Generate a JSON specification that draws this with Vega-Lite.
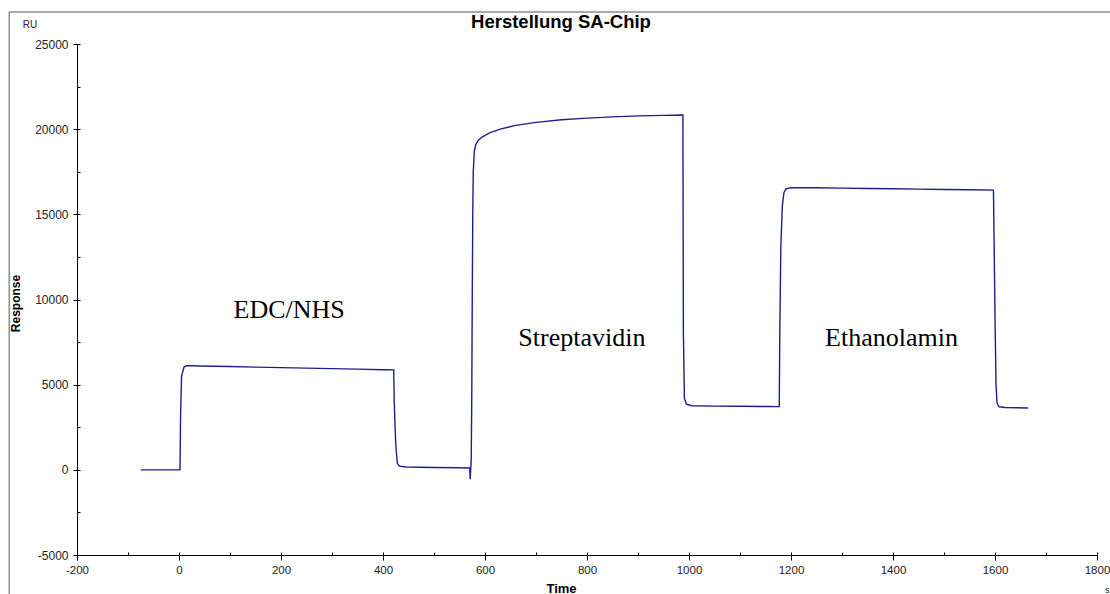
{
  "$schema": "https://vega.github.io/schema/vega-lite/v6.json",
  "width": 1020,
  "height": 511,
  "autosize": {"type": "none"},
  "padding": {"left": 77, "top": 44, "right": 13, "bottom": 39},
  "background": "white",
  "config": {"view": {"stroke": null}, "font": "Liberation Sans"},
  "datasets": {
    "sensorgram": [
      {"t": -75, "ru": 0}, {"t": 0, "ru": 0}, {"t": 2, "ru": 0},
      {"t": 3, "ru": 3000}, {"t": 5, "ru": 5500}, {"t": 10, "ru": 6050}, {"t": 15, "ru": 6120},
      {"t": 30, "ru": 6110}, {"t": 40, "ru": 6100}, {"t": 100, "ru": 6070}, {"t": 150, "ru": 6030},
      {"t": 200, "ru": 6000}, {"t": 250, "ru": 5970}, {"t": 300, "ru": 5940}, {"t": 350, "ru": 5910},
      {"t": 400, "ru": 5880}, {"t": 421, "ru": 5870},
      {"t": 422, "ru": 4000}, {"t": 425, "ru": 1500}, {"t": 428, "ru": 400}, {"t": 432, "ru": 220},
      {"t": 445, "ru": 170}, {"t": 500, "ru": 140}, {"t": 550, "ru": 120}, {"t": 570, "ru": 110},
      {"t": 571, "ru": -550}, {"t": 573, "ru": 600}, {"t": 574, "ru": 4000}, {"t": 575, "ru": 10000},
      {"t": 576, "ru": 15000}, {"t": 577, "ru": 17500}, {"t": 579, "ru": 18700}, {"t": 582, "ru": 19100},
      {"t": 587, "ru": 19350}, {"t": 595, "ru": 19550}, {"t": 610, "ru": 19800}, {"t": 630, "ru": 20000},
      {"t": 660, "ru": 20220}, {"t": 700, "ru": 20400}, {"t": 750, "ru": 20550}, {"t": 800, "ru": 20650},
      {"t": 850, "ru": 20720}, {"t": 900, "ru": 20780}, {"t": 950, "ru": 20810}, {"t": 988, "ru": 20830},
      {"t": 989, "ru": 8000}, {"t": 991, "ru": 4200}, {"t": 995, "ru": 3850}, {"t": 1005, "ru": 3760},
      {"t": 1050, "ru": 3740}, {"t": 1100, "ru": 3730}, {"t": 1150, "ru": 3720}, {"t": 1177, "ru": 3710},
      {"t": 1178, "ru": 8000}, {"t": 1180, "ru": 13000}, {"t": 1183, "ru": 15500}, {"t": 1186, "ru": 16250},
      {"t": 1190, "ru": 16500}, {"t": 1200, "ru": 16560}, {"t": 1250, "ru": 16560}, {"t": 1300, "ru": 16540},
      {"t": 1350, "ru": 16520}, {"t": 1400, "ru": 16500}, {"t": 1450, "ru": 16480}, {"t": 1500, "ru": 16460},
      {"t": 1550, "ru": 16440}, {"t": 1597, "ru": 16420},
      {"t": 1598, "ru": 14000}, {"t": 1600, "ru": 9000}, {"t": 1602, "ru": 5000}, {"t": 1604, "ru": 3900},
      {"t": 1608, "ru": 3700}, {"t": 1620, "ru": 3660}, {"t": 1665, "ru": 3630}
    ],
    "phases": [
      {"t": 216, "ru": 8924, "label": "EDC/NHS"},
      {"t": 790, "ru": 7280, "label": "Streptavidin"},
      {"t": 1397, "ru": 7280, "label": "Ethanolamin"}
    ],
    "single": [{}]
  },
  "resolve": {"axis": {"x": "independent", "y": "independent"}},
  "layer": [
    {
      "data": {"name": "sensorgram"},
      "mark": {"type": "line", "color": "#1f1f8c", "strokeWidth": 1.4, "clip": false},
      "encoding": {
        "x": {"field": "t", "type": "quantitative",
          "scale": {"domain": [-200, 1800], "nice": false, "zero": false},
          "axis": {"orient": "bottom", "values": [-200, 0, 200, 400, 600, 800, 1000, 1200, 1400, 1600, 1800],
            "grid": false, "tickSize": 5, "tickColor": "#000", "domainColor": "#000", "domainWidth": 1, "tickWidth": 1,
            "labelFont": "Liberation Sans", "labelFontSize": 11.5, "labelColor": "#222", "labelPadding": 4,
            "labelFlush": false, "labelOverlap": false, "labelExpr": "'' + datum.value",
            "title": "Time", "titleFont": "Liberation Sans", "titleFontSize": 13, "titleFontWeight": "bold", "titleColor": "#000",
            "titleX": 484, "titleY": 27, "titleBaseline": "top", "titleAlign": "center"}},
        "y": {"field": "ru", "type": "quantitative",
          "scale": {"domain": [-5000, 25000], "nice": false, "zero": false},
          "axis": {"orient": "left", "values": [-5000, 0, 5000, 10000, 15000, 20000, 25000],
            "grid": false, "tickSize": 4, "tickColor": "#000", "domainColor": "#000", "domainWidth": 1, "tickWidth": 1,
            "labelFont": "Liberation Sans", "labelFontSize": 12, "labelColor": "#222", "labelPadding": 5,
            "labelFlush": false, "labelOverlap": false, "labelExpr": "'' + datum.value",
            "title": "Response", "titleFont": "Liberation Sans", "titleFontSize": 12, "titleFontWeight": "bold", "titleColor": "#000",
            "titleX": -62, "titleY": 259, "titleAngle": 270, "titleBaseline": "middle", "titleAlign": "center"}}
      }
    },
    {
      "data": {"name": "phases"},
      "mark": {"type": "text", "font": "Liberation Serif", "fontSize": 26, "color": "#000", "align": "center", "baseline": "alphabetic"},
      "encoding": {
        "x": {"field": "t", "type": "quantitative",
          "scale": {"domain": [-200, 1800], "nice": false, "zero": false},
          "axis": {"orient": "bottom", "values": [-200, -100, 0, 100, 200, 300, 400, 500, 600, 700, 800, 900, 1000, 1100, 1200, 1300, 1400, 1500, 1600, 1700, 1800],
            "grid": false, "domain": false, "labels": false, "title": null, "tickSize": -3, "tickColor": "#000", "tickWidth": 1}},
        "y": {"field": "ru", "type": "quantitative",
          "scale": {"domain": [-5000, 25000], "nice": false, "zero": false},
          "axis": {"orient": "left", "values": [-5000, -2500, 0, 2500, 5000, 7500, 10000, 12500, 15000, 17500, 20000, 22500, 25000],
            "grid": false, "domain": false, "labels": false, "title": null, "tickSize": -3, "tickColor": "#000", "tickWidth": 1}},
        "text": {"field": "label", "type": "nominal"}
      }
    },
    {
      "data": {"name": "single"},
      "mark": {"type": "rule", "color": "#555", "strokeWidth": 1, "clip": false},
      "encoding": {
        "x": {"datum": -333, "type": "quantitative", "scale": {"domain": [-200, 1800], "nice": false, "zero": false}, "axis": null},
        "y": {"datum": 26879, "type": "quantitative", "scale": {"domain": [-5000, 25000], "nice": false, "zero": false}, "axis": null},
        "y2": {"datum": -9000}
      }
    },
    {
      "data": {"name": "single"},
      "mark": {"type": "rule", "color": "#555", "strokeWidth": 1, "clip": false},
      "encoding": {
        "x": {"datum": -333, "type": "quantitative", "scale": {"domain": [-200, 1800], "nice": false, "zero": false}, "axis": null},
        "x2": {"datum": 2000},
        "y": {"datum": 26879, "type": "quantitative", "scale": {"domain": [-5000, 25000], "nice": false, "zero": false}, "axis": null}
      }
    },
    {
      "data": {"name": "single"},
      "mark": {"type": "text", "font": "Liberation Sans", "fontSize": 18.5, "fontWeight": "bold", "color": "#000", "align": "center", "baseline": "alphabetic", "clip": false},
      "encoding": {
        "x": {"datum": 749, "type": "quantitative", "scale": {"domain": [-200, 1800], "nice": false, "zero": false}, "axis": null},
        "y": {"datum": 25939, "type": "quantitative", "scale": {"domain": [-5000, 25000], "nice": false, "zero": false}, "axis": null},
        "text": {"value": "Herstellung SA-Chip"}
      }
    },
    {
      "data": {"name": "single"},
      "mark": {"type": "text", "font": "Liberation Sans", "fontSize": 10, "color": "#222", "align": "center", "baseline": "middle", "clip": false},
      "encoding": {
        "x": {"datum": -292, "type": "quantitative", "scale": {"domain": [-200, 1800], "nice": false, "zero": false}, "axis": null},
        "y": {"datum": 26115, "type": "quantitative", "scale": {"domain": [-5000, 25000], "nice": false, "zero": false}, "axis": null},
        "text": {"value": "RU"}
      }
    },
    {
      "data": {"name": "single"},
      "mark": {"type": "text", "font": "Liberation Sans", "fontSize": 9, "color": "#222", "align": "center", "baseline": "middle", "clip": false},
      "encoding": {
        "x": {"datum": 1820, "type": "quantitative", "scale": {"domain": [-200, 1800], "nice": false, "zero": false}, "axis": null},
        "y": {"datum": -7060, "type": "quantitative", "scale": {"domain": [-5000, 25000], "nice": false, "zero": false}, "axis": null},
        "text": {"value": "s"}
      }
    }
  ]
}
